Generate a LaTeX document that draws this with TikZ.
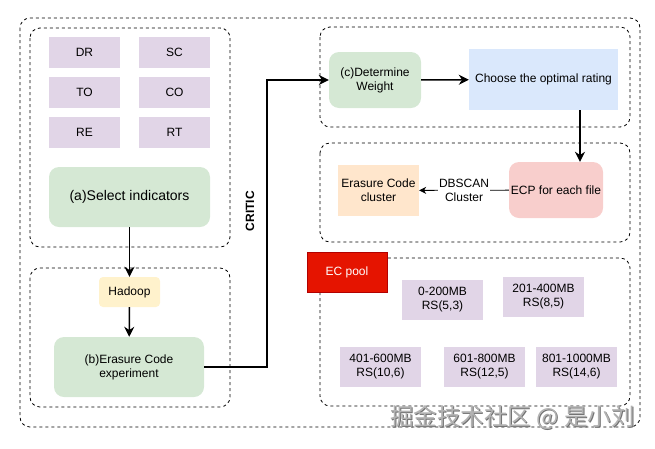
\documentclass[tikz,border=0pt]{standalone}
\usepackage{fontspec}
\setmainfont{Liberation Sans}
\newfontfamily\cjk{Noto Sans CJK SC}
\usetikzlibrary{arrows.meta}
\definecolor{indfill}{HTML}{E1D5E7}
\definecolor{grnfill}{HTML}{D5E8D4}
\definecolor{yelfill}{HTML}{FFF2CC}
\definecolor{bluefill}{HTML}{DAE8FC}
\definecolor{redfill}{HTML}{F8CECC}
\definecolor{orgfill}{HTML}{FFE6CC}
\definecolor{poolred}{HTML}{E51400}
\definecolor{pooledge}{HTML}{B20000}
\begin{document}
\begin{tikzpicture}[x=1pt,y=-1pt,
  font=\fontsize{12}{14}\selectfont,
  grp/.style={draw,line width=0.8pt,dash pattern=on 3pt off 3pt,rounded corners=10pt},
  ind/.style={fill=indfill,minimum width=71pt,minimum height=31pt,inner sep=0pt},
  stage/.style={fill=grnfill,rounded corners=10pt,inner sep=0pt,align=center},
  sizebox/.style={fill=indfill,minimum width=81pt,minimum height=40pt,inner sep=0pt,align=center},
  arr/.style={line width=1.5pt,-{Stealth[length=10pt,width=10pt]}},
  wmark/.style={font=\cjk\fontsize{23.5}{25}\selectfont}]
\useasboundingbox (0,0) rectangle (655,448);

\draw[grp] (20,18) rectangle (640,427);
\draw[grp] (30,28) rectangle (230,247);
\draw[grp] (30,268) rectangle (230,407);
\draw[grp] (320,27) rectangle (630,127);
\draw[grp] (320,143) rectangle (630,242);
\draw[grp] (320,258) rectangle (630,406);

\foreach \n/\t/\x/\y in {dr/DR/84.5/52.5,sc/SC/174.5/52.5,to/TO/84.5/92.5,
  co/CO/174.5/92.5,re/RE/84.5/132.5,rt/RT/174.5/132.5}
  \node[ind] (\n) at (\x,\y) {\t};

\node[stage,minimum width=161pt,minimum height=60pt,font=\fontsize{14}{16}\selectfont] (sel) at (129.5,197) {(a)Select indicators};
\node[fill=yelfill,rounded corners=4pt,minimum width=61pt,minimum height=30pt,inner sep=0pt] (hadoop) at (129.5,292) {Hadoop};
\node[stage,minimum width=150pt,minimum height=60pt] (expm) at (129,367) {(b)Erasure Code\\experiment};

\node[stage,minimum width=92pt,minimum height=56pt] (weight) at (375,80) {(c)Determine\\Weight};
\node[fill=bluefill,minimum width=149pt,minimum height=61pt,inner sep=0pt] (rating) at (543.5,79.5) {Choose the optimal rating};

\node[fill=redfill,rounded corners=10pt,minimum width=94pt,minimum height=56pt,inner sep=0pt] (ecp) at (556,190) {ECP for each file};
\node[fill=orgfill,minimum width=81pt,minimum height=51pt,inner sep=0pt,align=center] (clus) at (378.5,190.5) {Erasure Code\\cluster};

\node[fill=poolred,draw=pooledge,text=white,minimum width=80pt,minimum height=40pt,inner sep=0pt] (pool) at (347,272) {EC pool};
\node[sizebox] (r1) at (442.5,300) {0-200MB\\RS(5,3)};
\node[sizebox] (r2) at (543.5,297) {201-400MB\\RS(8,5)};
\node[sizebox] (r3) at (380.5,367) {401-600MB\\RS(10,6)};
\node[sizebox] (r4) at (484.5,367) {601-800MB\\RS(12,5)};
\node[sizebox] (r5) at (576.5,367) {801-1000MB\\RS(14,6)};

\node[rotate=90,font=\fontsize{12}{14}\selectfont\bfseries] (critic) at (250,211) {CRITIC};

\draw[arr] (sel) -- (hadoop);
\draw[arr] (hadoop) -- (expm);
\draw[arr] (expm.east) -- ++(63,0) |- (weight);
\draw[arr] (weight) -- (rating);
\draw[arr] ([xshift=36.5pt]rating.south) -- ([xshift=24pt]ecp.north);
\draw[line width=0.8pt,-{Stealth[length=7pt,width=7pt]}] (ecp) -- node[fill=white,align=center,inner sep=1pt] {DBSCAN\\Cluster} (clus);

\node[wmark,text=black!55] (markshade) at (513.5,419) {掘金技术社区 @ 是小刘};
\node[wmark,text=black!30] (mark) at (512.5,418) {掘金技术社区 @ 是小刘};
\end{tikzpicture}
\end{document}
